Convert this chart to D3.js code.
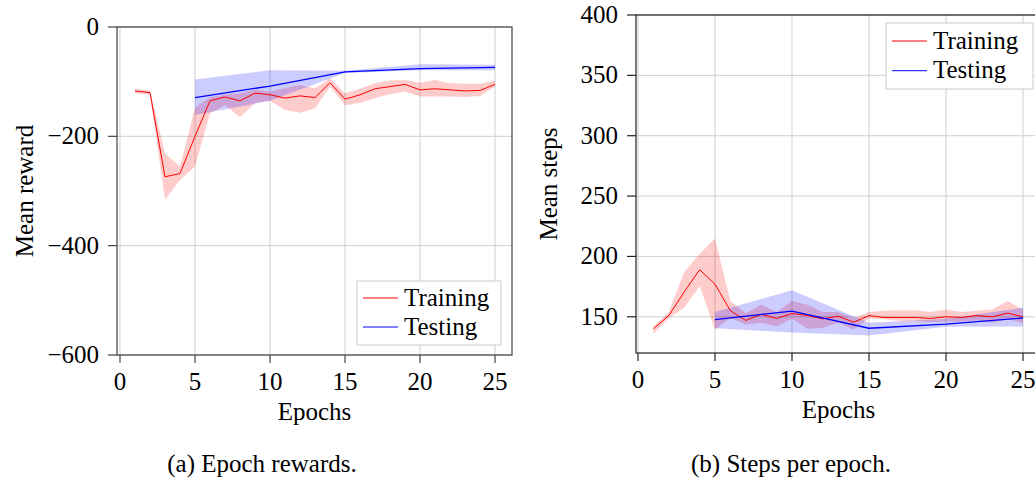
<!DOCTYPE html>
<html>
<head>
<meta charset="utf-8">
<script src="https://cdn.jsdelivr.net/npm/d3@7"></script>
<style>
  html, body { margin: 0; padding: 0; background: #fff; }
  svg { display: block; }
  svg#fig text { font-family: 'Liberation Serif' !important; }
</style>
</head>
<body>
<svg id="fig" width="1035" height="482"></svg>
<script>
// ---------- data ----------
const epochs = [1,2,3,4,5,6,7,8,9,10,11,12,13,14,15,16,17,18,19,20,21,22,23,24,25];
const testEpochs = [5,10,15,20,25];

const rewardTrain     = [-117,-120,-274,-268,-200,-135,-128,-135,-121,-124,-130,-126,-129,-102,-132,-124,-113,-109,-105,-115,-113,-115,-117,-116,-105];
const rewardTrainHigh = [-113,-116,-231,-255,-148,-128,-124,-121,-115,-118,-112,-106,-112,-94,-121,-113,-103,-98,-97,-102,-97,-103,-104,-104,-98];
const rewardTrainLow  = [-121,-124,-316,-280,-255,-158,-143,-165,-139,-135,-152,-157,-149,-109,-143,-139,-130,-123,-118,-127,-127,-127,-128,-126,-109];
const rewardTest      = [-129,-108,-82,-76,-74];
const rewardTestHigh  = [-96,-79,-80,-68,-69];
const rewardTestLow   = [-161,-135,-84,-79,-79];

const stepsTrain     = [140,151,170.5,189,177,155,147,152,148.6,152.7,151,148.3,150.5,145.5,151,149.4,149.4,149.4,148.6,150,149.4,151,150,153,150];
const stepsTrainHigh = [142,154,187,202,215,163,153,160,154,163,160,154,154,149,154,155,155.5,155.5,154,156,154,155,156,163,156];
const stepsTrainLow  = [136,149,157.5,175.5,139.4,149,143.6,145,142,148.6,140,141,145,139.4,148.6,148,146.5,146.5,145.5,146,146,147,145,148,145];
const stepsTest      = [147.7,154.7,140.5,144,149];
const stepsTestHigh  = [154,172,145,148.3,157.5];
const stepsTestLow   = [140.5,137,134.4,141.7,142];

const xTicks = [0,5,10,15,20,25];
const rewardTicks = [0,-200,-400,-600];
const stepsTicks = [150,200,250,300,350,400];
const legendLabels = ["Training","Testing"];

// ---------- drawing ----------
const svg = d3.select("#fig");
const FS = 25;
const fmt = v => (v < 0 ? "\u2212" + Math.abs(v) : String(v));

function txt(sel) {
  return sel.attr("font-size", FS).style("font-family", "'Liberation Serif'").attr("fill", "#000");
}

function panel(cfg) {
  const x = d3.scaleLinear().domain(cfg.xDomain).range([cfg.left, cfg.right]);
  const y = d3.scaleLinear().domain(cfg.yDomain).range([cfg.bottom, cfg.top]);
  const g = svg.append("g");

  // grid
  g.append("g").selectAll("line").data(xTicks).join("line")
    .attr("x1", d => x(d)).attr("x2", d => x(d))
    .attr("y1", cfg.top).attr("y2", cfg.bottom)
    .attr("stroke", "#cfcfcf").attr("stroke-width", 1);
  g.append("g").selectAll("line").data(cfg.yTicks).join("line")
    .attr("x1", cfg.left).attr("x2", cfg.right)
    .attr("y1", d => y(d)).attr("y2", d => y(d))
    .attr("stroke", "#cfcfcf").attr("stroke-width", 1);

  // bands
  const area = d3.area().x(d => x(d[0])).y0(d => y(d[1])).y1(d => y(d[2]));
  g.append("path")
    .datum(epochs.map((e, i) => [e, cfg.trLow[i], cfg.trHigh[i]]))
    .attr("d", area).attr("fill", "red").attr("fill-opacity", 0.2);
  g.append("path")
    .datum(testEpochs.map((e, i) => [e, cfg.teLow[i], cfg.teHigh[i]]))
    .attr("d", area).attr("fill", "blue").attr("fill-opacity", 0.2);

  // lines
  const line = d3.line().x(d => x(d[0])).y(d => y(d[1]));
  g.append("path")
    .datum(epochs.map((e, i) => [e, cfg.tr[i]]))
    .attr("d", line).attr("fill", "none").attr("stroke", "red").attr("stroke-width", 1);
  g.append("path")
    .datum(testEpochs.map((e, i) => [e, cfg.te[i]]))
    .attr("d", line).attr("fill", "none").attr("stroke", "blue").attr("stroke-width", 1.3);

  // box
  g.append("rect")
    .attr("x", cfg.left).attr("y", cfg.top)
    .attr("width", cfg.right - cfg.left).attr("height", cfg.bottom - cfg.top)
    .attr("fill", "none").attr("stroke", cfg.boxColor).attr("stroke-width", 1.2);

  // x ticks (outside)
  g.append("g").selectAll("line").data(xTicks).join("line")
    .attr("x1", d => x(d)).attr("x2", d => x(d))
    .attr("y1", cfg.bottom).attr("y2", cfg.bottom + 8)
    .attr("stroke", cfg.boxColor).attr("stroke-width", 1.2);
  txt(g.append("g").selectAll("text").data(xTicks).join("text"))
    .attr("x", d => x(d)).attr("y", cfg.bottom + 35)
    .attr("text-anchor", "middle")
    .text(d => fmt(d));

  // y ticks (outside)
  g.append("g").selectAll("line").data(cfg.yTicks).join("line")
    .attr("x1", cfg.left - 9).attr("x2", cfg.left)
    .attr("y1", d => y(d)).attr("y2", d => y(d))
    .attr("stroke", cfg.boxColor).attr("stroke-width", 1.2);
  txt(g.append("g").selectAll("text").data(cfg.yTicks).join("text"))
    .attr("x", cfg.left - 18).attr("y", d => y(d) + 8)
    .attr("text-anchor", "end")
    .text(d => fmt(d));

  // axis labels
  txt(g.append("text"))
    .attr("x", (cfg.left + cfg.right) / 2).attr("y", cfg.bottom + 65)
    .attr("text-anchor", "middle")
    .text("Epochs");
  txt(g.append("text"))
    .attr("transform", `translate(${cfg.ylabelX},${(cfg.top + cfg.bottom) / 2}) rotate(-90)`)
    .attr("text-anchor", "middle")
    .text(cfg.ylabel);

  // caption
  txt(g.append("text"))
    .attr("x", cfg.captionX).attr("y", 472)
    .attr("text-anchor", "middle")
    .text(cfg.caption);

  // legend
  const L = cfg.legend;
  const lg = g.append("g");
  lg.append("rect")
    .attr("x", L.x).attr("y", L.y).attr("width", L.w).attr("height", L.h)
    .attr("fill", "#fff").attr("stroke", "#cccccc").attr("stroke-width", 1);
  const colors = ["red", "blue"];
  legendLabels.forEach((lab, i) => {
    const ly = L.y + L.row0 + i * L.gap;
    lg.append("line")
      .attr("x1", L.x + 6).attr("x2", L.x + 41)
      .attr("y1", ly).attr("y2", ly)
      .attr("stroke", colors[i]).attr("stroke-width", 1);
    txt(lg.append("text"))
      .attr("x", L.x + 47).attr("y", ly + 7.5)
      .text(lab);
  });
}

panel({
  left: 117, right: 512, top: 27, bottom: 355,
  xDomain: [-0.2, 26.13], yDomain: [-600, 0],
  yTicks: rewardTicks,
  tr: rewardTrain, trHigh: rewardTrainHigh, trLow: rewardTrainLow,
  te: rewardTest, teHigh: rewardTestHigh, teLow: rewardTestLow,
  boxColor: "#444",
  ylabel: "Mean reward", ylabelX: 33,
  caption: "(a) Epoch rewards.", captionX: 262,
  legend: { x: 357, y: 281, w: 144, h: 64, row0: 17, gap: 29 }
});

panel({
  left: 636, right: 1041, top: 15, bottom: 353,
  xDomain: [-0.13, 26.17], yDomain: [120, 400],
  yTicks: stepsTicks,
  tr: stepsTrain, trHigh: stepsTrainHigh, trLow: stepsTrainLow,
  te: stepsTest, teHigh: stepsTestHigh, teLow: stepsTestLow,
  boxColor: "#222",
  ylabel: "Mean steps", ylabelX: 557,
  caption: "(b) Steps per epoch.", captionX: 791,
  legend: { x: 886, y: 23, w: 147, h: 66, row0: 18, gap: 29.7 }
});
</script>
</body>
</html>
